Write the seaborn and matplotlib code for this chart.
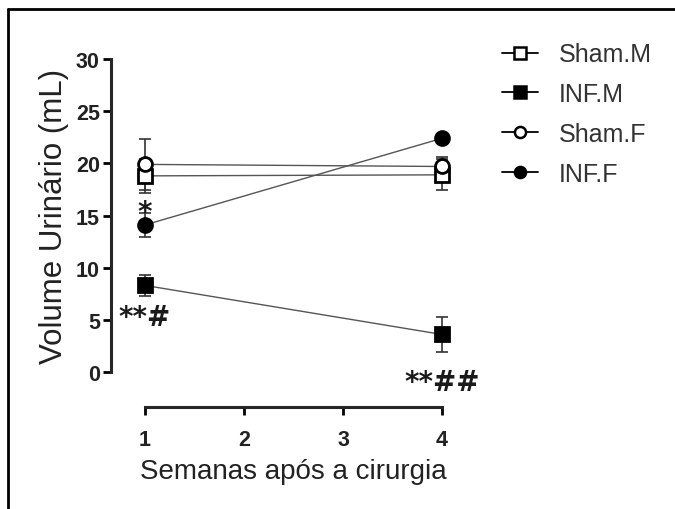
import seaborn as sns
import pandas as pd
import numpy as np
import matplotlib.pyplot as plt
from matplotlib.lines import Line2D

# Urine volume (mL), mean and SEM, weeks after surgery
weeks = [1, 4]
groups = ['Sham.M', 'INF.M', 'Sham.F', 'INF.F']
means = {'Sham.M': [18.8, 18.9],
         'INF.M': [8.3, 3.6],
         'Sham.F': [19.9, 19.7],
         'INF.F': [14.1, 22.4]}
sems = {'Sham.M': [1.6, 1.5],
        'INF.M': [1.0, 1.7],
        'Sham.F': [2.45, 0.9],
        'INF.F': [1.15, 0.4]}
x_ticks = [1, 2, 3, 4]
y_ticks = [0, 5, 10, 15, 20, 25, 30]
# significance marks: (week, value, text)
marks = [(1, 15.3, '*'), (1, 5.3, '**#'), (4, -1.0, '**##')]

markers = {'Sham.M': 's', 'INF.M': 's', 'Sham.F': 'o', 'INF.F': 'o'}
faces = {'Sham.M': 'white', 'INF.M': 'black', 'Sham.F': 'white', 'INF.F': 'black'}

data = pd.DataFrame({'Semana': np.tile(weeks, len(groups)),
                     'Grupo': np.repeat(groups, len(weeks)),
                     'Volume': np.concatenate([means[g] for g in groups]),
                     'SEM': np.concatenate([sems[g] for g in groups])})

sns.set_style('ticks')
plt.rcParams['font.family'] = ['Liberation Sans', 'DejaVu Sans']

fig = plt.figure(figsize=(6.75, 5.1), dpi=100)
ax = fig.add_axes([0.2148, 0.2686, 0.44, 0.6137])

for g in groups:
    d = data[data['Grupo'] == g]
    ax.errorbar(d['Semana'], d['Volume'], yerr=d['SEM'], fmt='none',
                ecolor='#333333', elinewidth=1.2, capsize=4.5, capthick=1.2,
                clip_on=False, zorder=2)
    sns.lineplot(data=d, x='Semana', y='Volume', ax=ax, color='#555555',
                 linewidth=1.0, marker=markers[g], markersize=10,
                 markerfacecolor=faces[g], markeredgecolor='black',
                 markeredgewidth=2, clip_on=False, zorder=3)

for wx, wy, txt in marks:
    ax.text(wx, wy, txt, ha='center', va='center', fontsize=20,
            fontweight='bold', family='DejaVu Sans', color='#1a1a1a',
            clip_on=False, zorder=4)

ax.set_xlim(1, 4)
ax.set_ylim(0, 30)
ax.set_xticks(x_ticks)
ax.set_yticks(y_ticks)
ax.set_xlabel('Semanas após a cirurgia', fontsize=20, labelpad=6, color='#222222')
ax.set_ylabel('Volume Urinário (mL)', fontsize=22.5, labelpad=5, color='#222222')
for s in ['left', 'bottom']:
    ax.spines[s].set_linewidth(2.2)
sns.despine(ax=ax, offset={'left': 24.5, 'bottom': 25})
ax.tick_params(axis='both', labelsize=15.5, width=2, length=6,
               color='black', labelcolor='#222222')
ax.tick_params(axis='x', pad=10)
ax.tick_params(axis='y', pad=2)
for lab in ax.get_xticklabels() + ax.get_yticklabels():
    lab.set_fontweight('bold')

handles = [Line2D([0], [0], color='black', linewidth=1.3, marker=markers[g],
                  markersize=8, markerfacecolor=faces[g],
                  markeredgecolor='black', markeredgewidth=1.8)
           for g in groups]
fig.legend(handles, groups, loc='upper left', bbox_to_anchor=(0.744, 0.915),
           frameon=False, fontsize=18, handlelength=1.45, handletextpad=0.8,
           labelspacing=0.63, borderpad=0, borderaxespad=0, labelcolor='#333333')

# outer frame (left and top edges)
fig.add_artist(Line2D([0.012, 0.012], [0, 0.98], color='black', linewidth=2,
                      transform=fig.transFigure))
fig.add_artist(Line2D([0.012, 1.0], [0.98, 0.98], color='black', linewidth=2,
                      transform=fig.transFigure))

fig.savefig('out.png', dpi=100)
